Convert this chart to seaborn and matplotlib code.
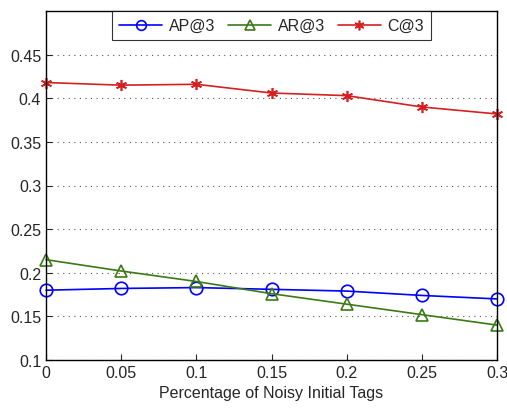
"""Effect of noisy initial tags on AP@3, AR@3 and C@3."""
import pandas as pd
import seaborn as sns
import matplotlib.pyplot as plt

noise = [0, 0.05, 0.1, 0.15, 0.2, 0.25, 0.3]
ap3 = [0.180, 0.182, 0.183, 0.181, 0.179, 0.174, 0.170]
ar3 = [0.215, 0.202, 0.190, 0.176, 0.164, 0.152, 0.140]
c3 = [0.418, 0.415, 0.416, 0.406, 0.403, 0.390, 0.382]

df = pd.DataFrame({'noise': noise * 3,
                   'value': ap3 + ar3 + c3,
                   'metric': ['AP@3'] * 7 + ['AR@3'] * 7 + ['C@3'] * 7})

sns.set_style('white')
plt.rcParams['font.family'] = ['Liberation Sans', 'DejaVu Sans']

fig = plt.figure(figsize=(5.07, 4.10), dpi=100)
ax = fig.add_axes([46 / 507, 1 - 361 / 410, 451 / 507, 349 / 410])

palette = {'AP@3': '#0000ff', 'AR@3': '#3a7a14', 'C@3': '#d42020'}
markers = {'AP@3': 'o', 'AR@3': '^', 'C@3': '*'}
sns.lineplot(data=df, x='noise', y='value', hue='metric', style='metric',
             palette=palette, markers=markers, dashes=False, ax=ax,
             linewidth=1.2)


def restyle(line, size=9):
    col = line.get_color()
    m = line.get_marker()
    line.set_markerfacecolor('none')
    line.set_markeredgecolor(col)
    line.set_markeredgewidth(1.2)
    line.set_markersize(size)
    if m == '*':
        # matlab-like asterisk
        line.set_marker((6, 2, 0))
        line.set_markersize(size - 1)


for line in ax.get_lines():
    restyle(line)
    line.set_clip_on(False)

ax.set_xlim(0, 0.3)
ax.set_ylim(0.1, 0.5)
ax.set_xticks(noise)
ax.set_xticklabels(['0', '0.05', '0.1', '0.15', '0.2', '0.25', '0.3'])
ax.set_yticks([0.1, 0.15, 0.2, 0.25, 0.3, 0.35, 0.4, 0.45])
ax.set_yticklabels(['0.1', '0.15', '0.2', '0.25', '0.3', '0.35', '0.4', '0.45'])
ax.tick_params(labelsize=11.5, direction='in', length=4, left=True, bottom=True)
ax.grid(axis='y', linestyle=(0, (1, 4)), color='#555555', linewidth=0.8)
ax.set_xlabel('Percentage of Noisy Initial Tags', fontsize=11.5)
ax.set_ylabel('')
for s in ax.spines.values():
    s.set_color('black')
    s.set_linewidth(1)

handles, labels = ax.get_legend_handles_labels()
leg = ax.legend(handles, labels, loc='upper center', ncol=3, fontsize=11.5,
                frameon=True, fancybox=False, edgecolor='black',
                borderaxespad=0, handlelength=2.7, columnspacing=0.8,
                handletextpad=0.4, borderpad=0.45)
leg.get_frame().set_linewidth(0.8)
for h in leg.legend_handles:
    restyle(h, size=7)

plt.savefig('out.png', dpi=100)
